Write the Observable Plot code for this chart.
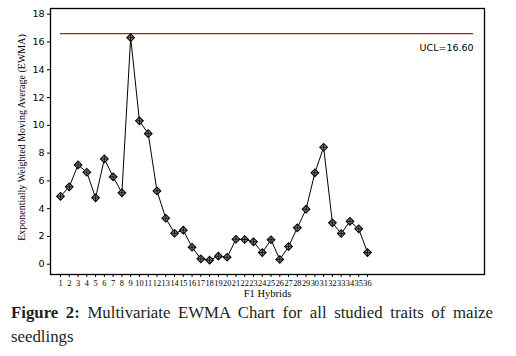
<!DOCTYPE html>
<html><head><meta charset="utf-8">
<script src="https://cdn.jsdelivr.net/npm/d3@7"></script>
<script src="https://cdn.jsdelivr.net/npm/@observablehq/plot@0.6"></script>
<style>
body{margin:0;background:#fff;width:516px;height:356px;overflow:hidden}
#chart svg{display:block}
#cap{margin:0 0 0 11px;width:482px;font-family:"Liberation Serif","DejaVu Serif",serif;font-size:16.8px;line-height:23.5px;text-align:justify;color:#231f20}
</style></head><body>
<div id="chart"></div>
<div id="cap"><b>Figure 2:</b> Multivariate EWMA Chart for all studied traits of maize seedlings</div>
<script>
const hybrids = [1,2,3,4,5,6,7,8,9,10,11,12,13,14,15,16,17,18,19,20,21,22,23,24,25,26,27,28,29,30,31,32,33,34,35,36];
const ewma = [4.89,5.57,7.15,6.62,4.78,7.58,6.29,5.14,16.31,10.32,9.40,5.28,3.31,2.23,2.45,1.22,0.39,0.29,0.58,0.50,1.80,1.78,1.61,0.84,1.76,0.34,1.27,2.62,3.96,6.58,8.42,2.98,2.21,3.09,2.55,0.84];
const yTicks = [0,2,4,6,8,10,12,14,16,18];
const ucl = 16.60;
const uclSpan = [1, 48.1];
const uclLabel = "UCL=16.60";
const xLabel = "F1 Hybrids";
const yLabel = "Exponentially Weighted Moving Average (EWMA)";

const data = hybrids.map((h, i) => ({h, v: ewma[i]}));
const serif = "'Liberation Serif','Times New Roman',serif";
const sans = "'DejaVu Sans',Verdana,sans-serif";

const chart = Plot.plot({
  width: 516,
  height: 301,
  marginLeft: 50,
  marginRight: 32,
  marginTop: 8,
  marginBottom: 27,
  x: {domain: [-0.14, 49.34]},
  y: {domain: [-0.74, 18.41]},
  style: {background: "#fff", color: "#000"},
  marks: [
    Plot.ruleY([ucl], {x1: uclSpan[0], x2: uclSpan[1], stroke: "#c8101a", strokeWidth: 1.2}),
    Plot.text([uclLabel], {x: uclSpan[1], y: ucl, dy: 14, textAnchor: "end", fontFamily: sans, fontSize: 9.5, fill: "#000"}),
    Plot.line(data, {x: "h", y: "v", stroke: "#000", strokeWidth: 1}),
    Plot.dot(data, {x: "h", y: "v", symbol: "square", rotate: 45, r: 3.1, fill: "#858585", stroke: "#000", strokeWidth: 1}),
    Plot.dot(data, {x: "h", y: "v", symbol: "plus", r: 2.2, stroke: "#000", strokeWidth: 0.8}),
    Plot.axisX({ticks: hybrids, tickSize: 3, tickPadding: 3, label: null, fontFamily: serif, fontSize: 8.3, tickFormat: d => String(d)}),
    Plot.axisY({ticks: yTicks, tickSize: 3, tickPadding: 3, label: null, fontFamily: sans, fontSize: 9.5}),
    Plot.text([xLabel], {frameAnchor: "bottom", dy: 22, textAnchor: "middle", fontFamily: serif, fontSize: 10.5, fill: "#000"}),
    Plot.text([yLabel], {frameAnchor: "left", dx: -29, dy: -4, textAnchor: "middle", rotate: -90, fontFamily: serif, fontSize: 10, fill: "#000"}),
    Plot.frame({stroke: "#000", strokeWidth: 1.3})
  ]
});
document.getElementById("chart").append(chart);
</script>
</body></html>
